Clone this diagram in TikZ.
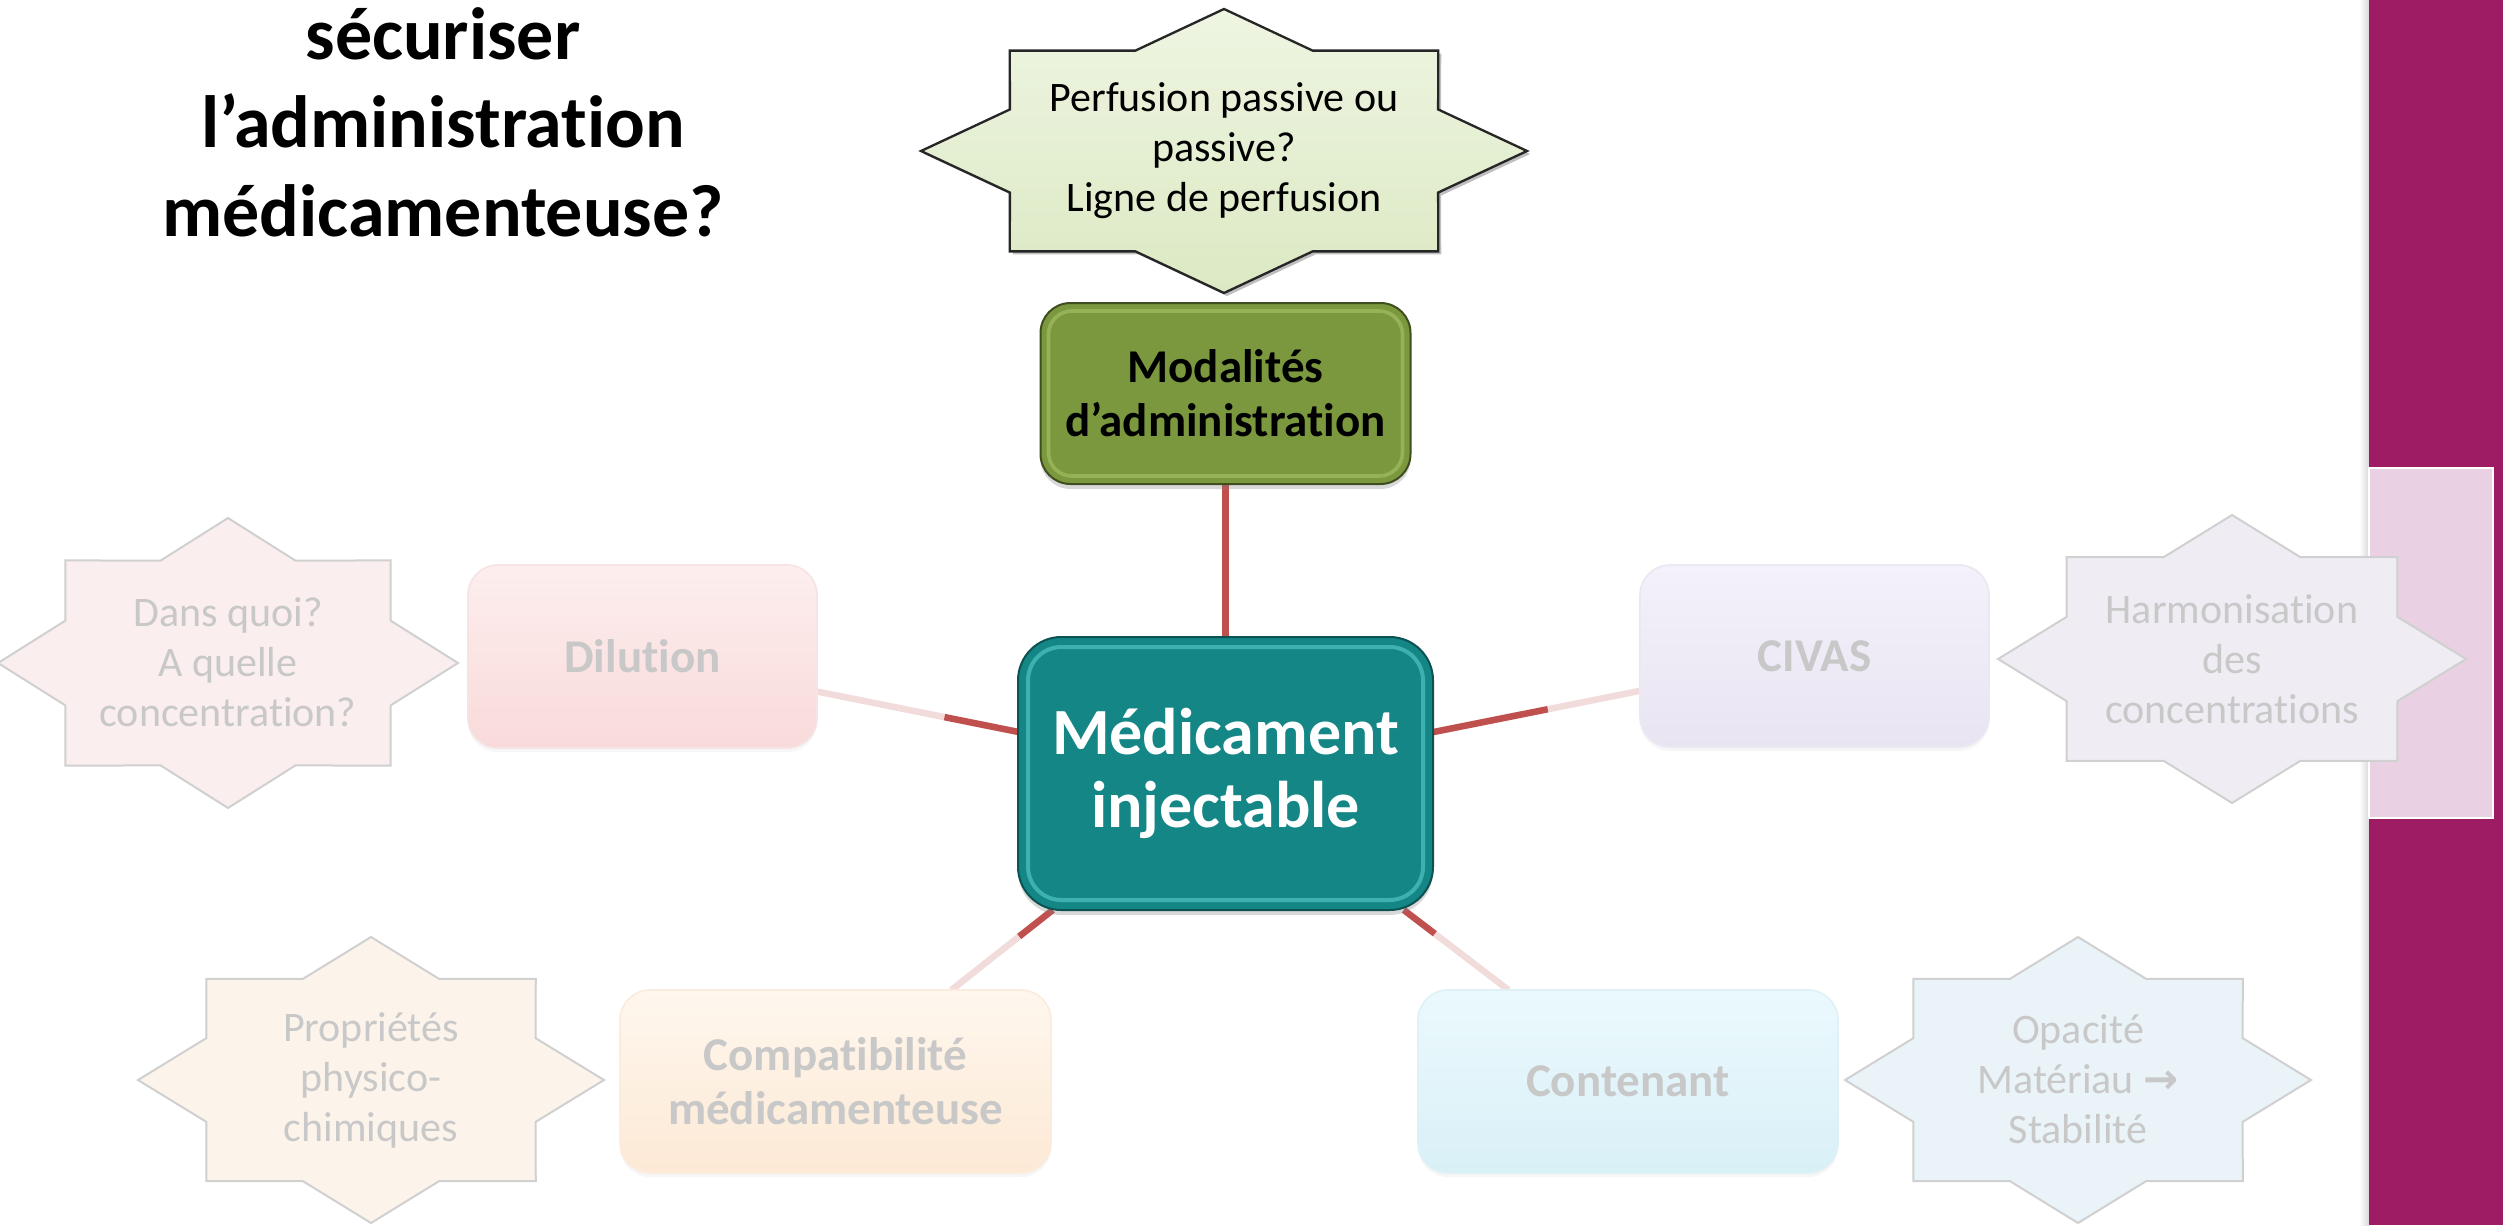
\documentclass[tikz,border=0pt]{standalone}
\usepackage{fontspec}
\setmainfont{Carlito}[Ligatures=NoCommon]
\newfontfamily\symfont{DejaVu Sans}
\usetikzlibrary{calc,shadows}
\pgfdeclarelayer{back}
\pgfsetlayers{back,main}

\definecolor{magbar}{HTML}{9E1C64}
\definecolor{pinkrect}{HTML}{E9D0E2}
\definecolor{tealfill}{HTML}{158686}
\definecolor{tealdark}{HTML}{0C5252}
\definecolor{tealhi}{HTML}{5ED3D3}
\definecolor{olivefill}{HTML}{7B983E}
\definecolor{olivedark}{HTML}{3F4E1E}
\definecolor{olivehi}{HTML}{B0CC70}
\definecolor{conred}{HTML}{C0504D}
\definecolor{confade}{HTML}{F2DCDB}
\definecolor{fadetext}{HTML}{C8C8C8}
\definecolor{fadeline}{HTML}{D0D0D0}
\definecolor{startop}{HTML}{EEF5E2}
\definecolor{starbot}{HTML}{DCE9C3}
\definecolor{stpink}{HTML}{FAEEEE}
\definecolor{stpeach}{HTML}{FCF4EB}
\definecolor{stlav}{HTML}{EFEDF3}
\definecolor{stblue}{HTML}{EAF4F8}
\definecolor{dilA}{HTML}{FDEEEE}
\definecolor{dilB}{HTML}{F9DADA}
\definecolor{dilC}{HTML}{F6E3E3}
\definecolor{civA}{HTML}{F4F1FA}
\definecolor{civB}{HTML}{E8E4F2}
\definecolor{civC}{HTML}{ECE8F3}
\definecolor{comA}{HTML}{FEF7EE}
\definecolor{comB}{HTML}{FDE9D5}
\definecolor{comC}{HTML}{FBECDD}
\definecolor{conA}{HTML}{EBF9FD}
\definecolor{conB}{HTML}{D9F0F7}
\definecolor{conC}{HTML}{DEF1F6}

\newcommand\octstar[4]{%
  \begin{scope}[shift={#1}, xscale=#2, yscale=#3]
    \path[#4] (0:1) \foreach \a in {0,45,...,315}{ -- (\a+22.5:0.765) -- (\a+45:1)} -- cycle;
  \end{scope}}

\tikzset{
  every node/.style={inner sep=0pt, outer sep=0pt},
  conn/.style={line width=1.95pt, conred},
  connfade/.style={line width=1.95pt, confade},
  startext/.style={align=center, text=fadetext, font=\fontsize{12.6}{15}\selectfont},
  fadestar/.style={fill=#1, draw=fadeline, line width=0.6pt, line join=miter},
  boxtext/.style={align=center, font=\bfseries\fontsize{14.1}{16.2}\selectfont},
  fadebox/.style n args={3}{rectangle, rounded corners=9pt, top color=#1, bottom color=#2,
    draw=#3, line width=0.5pt, text=fadetext, boxtext,
    drop shadow={shadow xshift=0pt, shadow yshift=-1.2pt, opacity=0.07}},
}

\begin{document}
\begin{tikzpicture}[x=0.3pt, y=-0.3pt]
\useasboundingbox (0,0) rectangle (2503,1225);

% background and right side bar
\begin{pgfonlayer}{back}
  \fill[white] (0,0) rectangle (2503,1225);
  \shade[left color=white, right color=black!15] (2359,0) rectangle (2369,1225);
  \fill[magbar] (2369,0) rectangle (2503,1225);
  \filldraw[fill=pinkrect, draw=white, line width=0.7pt] (2369,468) rectangle (2493,818);
\end{pgfonlayer}

% title
\node[font=\bfseries\fontsize{22.2}{26.5}\selectfont, align=center] (title) at (443,122)
  {sécuriser\\l’administration\\médicamenteuse?};

% top star
\octstar{(1227,154)}{303}{142}{fill=black, opacity=0.25}
\octstar{(1224,151)}{303}{142}{top color=startop, bottom color=starbot, draw=black!85, line width=0.7pt, line join=miter}
\node[align=center, font=\fontsize{12.6}{15}\selectfont] (perf) at (1224,151)
  {Perfusion passive ou\\passive?\\Ligne de perfusion};

% faded stars
\octstar{(228,663)}{230}{145}{fadestar=stpink}
\node[startext] (dans) at (228,662) {Dans quoi?\\A quelle\\concentration?};

\octstar{(371,1080)}{233}{143}{fadestar=stpeach}
\node[startext] (prop) at (371,1080) {Propriétés\\physico-\\chimiques};

\octstar{(2232,659)}{234}{144}{fadestar=stlav}
\node[startext] (harm) at (2232,659) {Harmonisation\\des\\concentrations};

\octstar{(2078,1080)}{233}{143}{fadestar=stblue}
\node[startext] (opac) at (2078,1079) {Opacité\\Matériau {\symfont\bfseries →}\\Stabilité};

% central node
\node[rectangle, rounded corners=13pt, fill=tealfill, draw=tealdark, line width=0.6pt,
      minimum width=124.5pt, minimum height=81.9pt, text=white, align=center,
      font=\bfseries\fontsize{19.8}{21.9}\selectfont,
      drop shadow={shadow xshift=0pt, shadow yshift=-1.5pt, opacity=0.3}]
  (med) at (1225.5,773.5) {Médicament\\injectable};
\draw[tealhi, line width=1.2pt, opacity=0.55, rounded corners=10pt]
  ($(med.south west)+(10,-10)$) rectangle ($(med.north east)+(-10,10)$);

% modalites
\node[rectangle, rounded corners=9pt, fill=olivefill, draw=olivedark, line width=0.6pt,
      minimum width=111pt, minimum height=54.3pt, text=black, boxtext,
      drop shadow={shadow xshift=0pt, shadow yshift=-1.5pt, opacity=0.3}]
  (mod) at (1225.5,393.5) {Modalités\\d’administration};
\draw[olivehi, line width=1.1pt, opacity=0.5, rounded corners=7pt]
  ($(mod.south west)+(8,-8)$) rectangle ($(mod.north east)+(-8,8)$);

% faded boxes
\node[fadebox={dilA}{dilB}{dilC}, minimum width=104.7pt, minimum height=54.9pt]
  (dil) at (642.5,656.5) {Dilution};
\node[fadebox={civA}{civB}{civC}, minimum width=104.7pt, minimum height=54.6pt]
  (civ) at (1814.5,656) {CIVAS};
\node[fadebox={comA}{comB}{comC}, minimum width=129.3pt, minimum height=54.9pt]
  (comp) at (835.5,1081.5) {Compatibilité\\médicamenteuse};
\node[fadebox={conA}{conB}{conC}, minimum width=126pt, minimum height=54.9pt]
  (cont) at (1628,1081.5) {Contenant};

% connectors
\begin{pgfonlayer}{back}
  \draw[conn] (mod) -- (med);
  \draw[connfade] (dil) -- (med);
  \draw[conn] (med) -- ($(med.center)!0.482!(dil.center)$);
  \draw[connfade] (civ) -- (med);
  \draw[conn] (med) -- ($(med.center)!0.547!(civ.center)$);
  \draw[connfade] (comp) -- (med);
  \draw[conn] (med) -- ($(med.center)!0.529!(comp.center)$);
  \draw[connfade] (cont) -- (med);
  \draw[conn] (med) -- ($(med.center)!0.52!(cont.center)$);
\end{pgfonlayer}
\end{tikzpicture}
\end{document}
